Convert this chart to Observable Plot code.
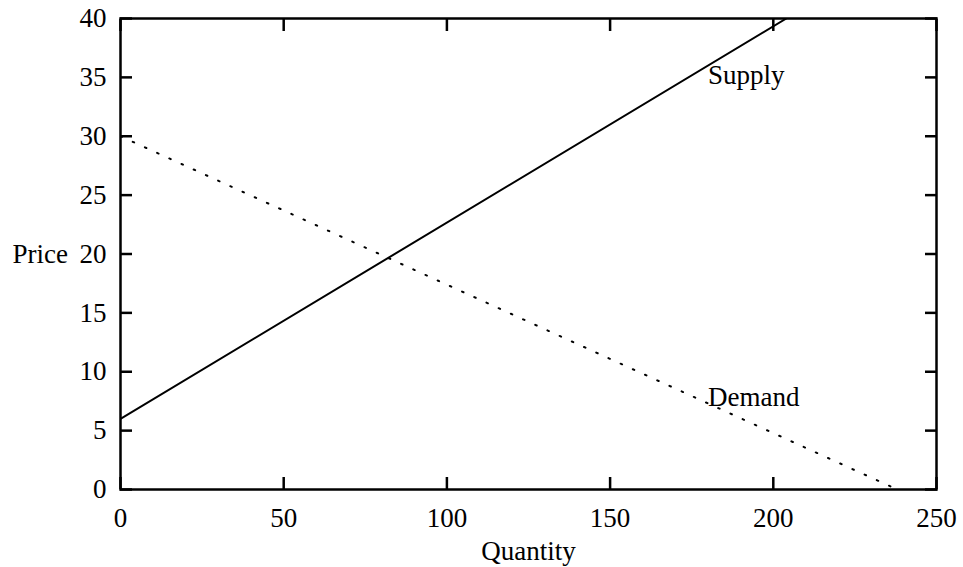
<!DOCTYPE html>
<html>
<head>
<meta charset="utf-8">
<script src="https://cdn.jsdelivr.net/npm/d3@7"></script>
<script src="https://cdn.jsdelivr.net/npm/@observablehq/plot@0.6"></script>
<style>
  html, body { margin: 0; padding: 0; background: #fff; }
</style>
</head>
<body>
<div id="chart"></div>
<script>
// Data
const supplyQ = [0, 204];
const supplyP = [6, 40];
const demandQ = [0, 238];
const demandP = [30, 0];
const curveNames = ["Supply", "Demand"];
const labelQ = [180, 180];
const labelP = [35.2, 7.8];
const xTicks = [0, 50, 100, 150, 200, 250];
const yTicks = [0, 5, 10, 15, 20, 25, 30, 35, 40];

const supply = supplyQ.map((q, i) => ({q, p: supplyP[i]}));
const demand = demandQ.map((q, i) => ({q, p: demandP[i]}));
const labels = curveNames.map((name, i) => ({name, q: labelQ[i], p: labelP[i]}));

const chart = Plot.plot({
  width: 963,
  height: 567,
  marginLeft: 120,
  marginRight: 27,
  marginTop: 18,
  marginBottom: 78,
  style: {fontFamily: "Liberation Serif", fontSize: "27px", background: "#fff", color: "#000"},
  x: {domain: [0, 250]},
  y: {domain: [0, 40]},
  marks: [
    // inward ticks on all four sides
    Plot.axisX(xTicks, {anchor: "bottom", tickSize: -12, strokeWidth: 2.5, text: null, label: null}),
    Plot.axisX(xTicks, {anchor: "top", tickSize: -12, strokeWidth: 2.5, text: null, label: null}),
    Plot.axisY(yTicks, {anchor: "left", tickSize: -12, strokeWidth: 2.5, text: null, label: null}),
    Plot.axisY(yTicks, {anchor: "right", tickSize: -12, strokeWidth: 2.5, text: null, label: null}),
    // tick labels
    Plot.axisX(xTicks, {anchor: "bottom", tickSize: 0, tickPadding: 18, label: null, fontSize: 27}),
    Plot.axisY(yTicks, {anchor: "left", tickSize: 0, tickPadding: 14, label: null, fontSize: 27}),
    Plot.frame({stroke: "#000", strokeWidth: 2.5}),
    Plot.line(supply, {x: "q", y: "p", stroke: "#000", strokeWidth: 2, clip: true}),
    Plot.line(demand, {x: "q", y: "p", stroke: "#000", strokeWidth: 2, strokeDasharray: "1.6,11.8", clip: true}),
    Plot.text(labels, {x: "q", y: "p", text: "name", textAnchor: "start", fontSize: 27, fill: "#000"}),
    Plot.text(["Price"], {frameAnchor: "left", dx: -108, textAnchor: "start", fontSize: 27, fill: "#000"}),
    Plot.text(["Quantity"], {frameAnchor: "bottom", dy: 70, fontSize: 27, fill: "#000"})
  ]
});
document.getElementById("chart").appendChild(chart);
</script>
</body>
</html>
